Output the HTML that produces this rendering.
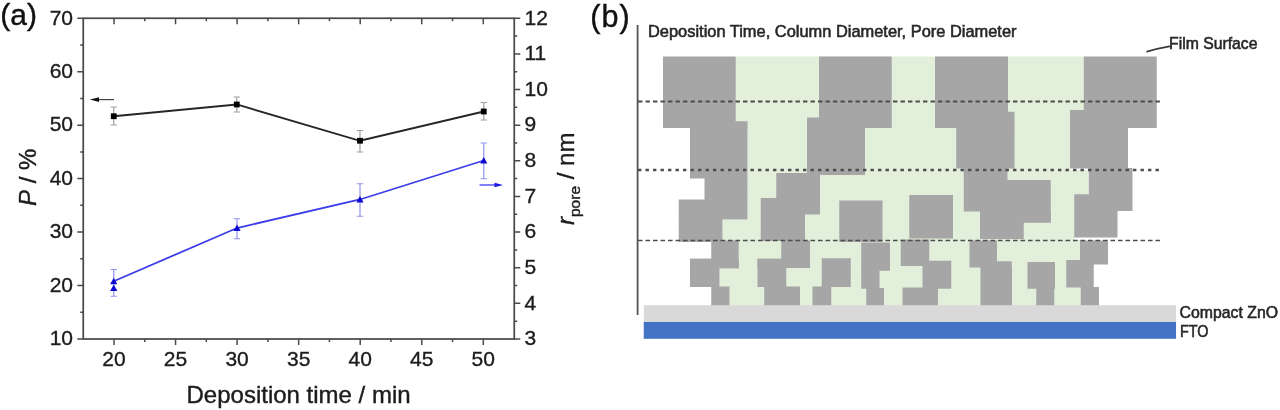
<!DOCTYPE html>
<html lang="en"><head><meta charset="utf-8"><title>Figure</title>
<style>html,body{margin:0;padding:0;background:#fff;}body{width:1280px;height:410px;overflow:hidden;}svg{display:block;filter:blur(0.75px);}</style></head>
<body>
<svg width="1280" height="410" viewBox="0 0 1280 410">
<rect width="1280" height="410" fill="#ffffff"/>
<g id="chart">
<rect x="83.25" y="18.25" width="431.0" height="320.75" fill="none" stroke="#4a4a4a" stroke-width="1.75"/>
<path d="M83.25,339.00h-6M83.25,312.27h-3M83.25,285.54h-6M83.25,258.81h-3M83.25,232.08h-6M83.25,205.35h-3M83.25,178.62h-6M83.25,151.90h-3M83.25,125.17h-6M83.25,98.44h-3M83.25,71.71h-6M83.25,44.98h-3M83.25,18.25h-6M514.25,339.00h6M514.25,321.18h3M514.25,303.36h6M514.25,285.54h3M514.25,267.72h6M514.25,249.90h3M514.25,232.08h6M514.25,214.26h3M514.25,196.44h6M514.25,178.62h3M514.25,160.81h6M514.25,142.99h3M514.25,125.17h6M514.25,107.35h3M514.25,89.53h6M514.25,71.71h3M514.25,53.89h6M514.25,36.07h3M514.25,18.25h6M114.00,339.0v6M114.00,18.25v6M144.78,339.0v3M144.78,18.25v3M175.55,339.0v6M175.55,18.25v6M206.32,339.0v3M206.32,18.25v3M237.10,339.0v6M237.10,18.25v6M267.88,339.0v3M267.88,18.25v3M298.65,339.0v6M298.65,18.25v6M329.43,339.0v3M329.43,18.25v3M360.20,339.0v6M360.20,18.25v6M390.98,339.0v3M390.98,18.25v3M421.75,339.0v6M421.75,18.25v6M452.53,339.0v3M452.53,18.25v3M483.30,339.0v6M483.30,18.25v6" stroke="#4a4a4a" stroke-width="1.5" fill="none"/>
<g font-family="'Liberation Sans', Arial, sans-serif" font-size="21" fill="#1c1c1c" stroke="#1c1c1c" stroke-width="0.35">
<text x="73" y="345.30" text-anchor="end">10</text>
<text x="73" y="291.84" text-anchor="end">20</text>
<text x="73" y="238.38" text-anchor="end">30</text>
<text x="73" y="184.93" text-anchor="end">40</text>
<text x="73" y="131.47" text-anchor="end">50</text>
<text x="73" y="78.01" text-anchor="end">60</text>
<text x="73" y="24.55" text-anchor="end">70</text>
<text x="524.5" y="345.30">3</text>
<text x="524.5" y="309.66">4</text>
<text x="524.5" y="274.02">5</text>
<text x="524.5" y="238.38">6</text>
<text x="524.5" y="202.74">7</text>
<text x="524.5" y="167.11">8</text>
<text x="524.5" y="131.47">9</text>
<text x="524.5" y="95.83">10</text>
<text x="524.5" y="60.19">11</text>
<text x="524.5" y="24.55">12</text>
<text x="114.00" y="366.3" text-anchor="middle">20</text>
<text x="175.55" y="366.3" text-anchor="middle">25</text>
<text x="237.10" y="366.3" text-anchor="middle">30</text>
<text x="298.65" y="366.3" text-anchor="middle">35</text>
<text x="360.20" y="366.3" text-anchor="middle">40</text>
<text x="421.75" y="366.3" text-anchor="middle">45</text>
<text x="483.30" y="366.3" text-anchor="middle">50</text>
</g>
<g font-family="'Liberation Sans', Arial, sans-serif" font-size="24" fill="#1c1c1c" stroke="#1c1c1c" stroke-width="0.4">
<text x="186.5" y="402.9">Deposition time / min</text>
<text transform="translate(36,206) rotate(-90)"><tspan font-style="italic">P</tspan> / %</text>
<text transform="translate(573.5,225) rotate(-90)"><tspan font-style="italic">r</tspan><tspan font-size="15.5" dy="6.5">pore</tspan><tspan dy="-6.5"> / nm</tspan></text>
</g>
<text x="0.3" y="24.6" font-family="'Liberation Sans', Arial, sans-serif" font-size="30" fill="#111" stroke="#111" stroke-width="0.4">(a)</text>
<path d="M113.75,107V125M110.55,107h6.4M110.55,125h6.4M236.75,97V112M233.55,97h6.4M233.55,112h6.4M360,130.5V152M356.8,130.5h6.4M356.8,152h6.4M483.75,102.5V120M480.55,102.5h6.4M480.55,120h6.4" stroke="#a0a0a0" stroke-width="1.2" fill="none"/>
<polyline points="113.75,116.25 236.75,104.5 360,140.75 483.75,111.5" fill="none" stroke="#262626" stroke-width="1.8"/>
<rect x="110.85" y="113.35" width="5.8" height="5.8" fill="#000"/>
<rect x="233.85" y="101.6" width="5.8" height="5.8" fill="#000"/>
<rect x="357.1" y="137.85" width="5.8" height="5.8" fill="#000"/>
<rect x="480.85" y="108.6" width="5.8" height="5.8" fill="#000"/>
<path d="M114,99.6H97" stroke="#444" stroke-width="1.2" fill="none"/><path d="M90,99.6l9,-2.3v4.6z" fill="#111"/>
<path d="M113.75,269.5V296.25M110.55,269.5h6.4M110.55,296.25h6.4M237,218.75V238.75M233.8,218.75h6.4M233.8,238.75h6.4M360,183.75V216.25M356.8,183.75h6.4M356.8,216.25h6.4M483.75,143V178.75M480.55,143h6.4M480.55,178.75h6.4" stroke="#9292f4" stroke-width="1.2" fill="none"/>
<polyline points="113.75,281.25 237,228 360,199.5 483.75,160.5" fill="none" stroke="#3c3ce8" stroke-width="1.8"/>
<path d="M113.75,277.65L117.35,284.13H110.15z" fill="#0a0ad0"/>
<path d="M237,224.4L240.6,230.88H233.4z" fill="#0a0ad0"/>
<path d="M360,195.9L363.6,202.38H356.4z" fill="#0a0ad0"/>
<path d="M483.75,156.9L487.35,163.38H480.15z" fill="#0a0ad0"/>
<path d="M113.75,284.4L117.35,290.88H110.15z" fill="#0a0ad0"/>
<path d="M479.5,185H496" stroke="#3c3cf0" stroke-width="1.3" fill="none"/><path d="M503,185l-8.5,-2.2v4.4z" fill="#1a1ae0"/>
</g>
<g id="schematic">
<text x="590.3" y="26.9" font-family="'Liberation Sans', Arial, sans-serif" font-size="30.5" fill="#111" stroke="#111" stroke-width="0.4" textLength="39.3" lengthAdjust="spacing">(b)</text>
<g fill="#e2efda">
<rect x="735.75" y="56.5" width="348.00" height="72.50"/>
<rect x="747.5" y="128" width="322.50" height="43.00"/>
<rect x="747.5" y="170" width="341.00" height="30.00"/>
<rect x="747.5" y="194" width="327.00" height="26.00"/>
<rect x="722.5" y="219.5" width="352.00" height="21.50"/>
<rect x="738.75" y="240" width="341.25" height="29.00"/>
<rect x="719.5" y="260" width="347.00" height="28.00"/>
<rect x="729.5" y="287" width="351.50" height="19.50"/>
</g>
<g fill="#a6a6a6">
<rect x="663" y="56.5" width="72.75" height="71.50"/>
<rect x="819" y="56.5" width="72.75" height="71.50"/>
<rect x="935" y="56.5" width="73.00" height="71.50"/>
<rect x="1083.75" y="56.5" width="73.00" height="71.50"/>
<rect x="690" y="127" width="57.50" height="51.50"/>
<rect x="728" y="121.25" width="19.50" height="7.75"/>
<rect x="704.5" y="178" width="43.00" height="22.00"/>
<rect x="807" y="117.5" width="58.00" height="57.50"/>
<rect x="956.25" y="127" width="58.25" height="41.50"/>
<rect x="1000" y="111.75" width="14.50" height="17.25"/>
<rect x="1070" y="110" width="58.00" height="58.50"/>
<rect x="678.75" y="199.5" width="68.75" height="20.00"/>
<rect x="678.75" y="219" width="43.75" height="23.00"/>
<rect x="776.25" y="173" width="43.75" height="41.50"/>
<rect x="760.75" y="198" width="44.25" height="43.00"/>
<rect x="839.25" y="200.5" width="43.25" height="41.50"/>
<rect x="909.25" y="195" width="43.75" height="43.50"/>
<rect x="963.75" y="168" width="43.75" height="43.50"/>
<rect x="1000" y="180" width="50.75" height="42.50"/>
<rect x="980" y="211" width="70.75" height="11.50"/>
<rect x="980" y="222" width="43.75" height="17.00"/>
<rect x="1088.75" y="168" width="43.75" height="43.00"/>
<rect x="1074.25" y="194.25" width="43.25" height="43.25"/>
<rect x="711.25" y="240.5" width="27.50" height="27.75"/>
<rect x="690" y="258.75" width="29.50" height="28.25"/>
<rect x="690" y="258.75" width="48.75" height="9.50"/>
<rect x="711.25" y="286.5" width="18.25" height="20.00"/>
<rect x="781.25" y="240.5" width="28.75" height="27.50"/>
<rect x="757.5" y="258.75" width="28.75" height="28.25"/>
<rect x="757.5" y="258.75" width="52.50" height="9.25"/>
<rect x="764.25" y="286.5" width="35.75" height="20.00"/>
<rect x="821.75" y="258.25" width="29.00" height="28.75"/>
<rect x="812.5" y="286.5" width="18.75" height="20.00"/>
<rect x="861.25" y="242.5" width="28.75" height="28.25"/>
<rect x="861.25" y="270" width="18.25" height="18.75"/>
<rect x="866.25" y="288" width="17.75" height="18.50"/>
<rect x="900.75" y="239.5" width="28.50" height="26.50"/>
<rect x="922.5" y="260.75" width="28.75" height="28.00"/>
<rect x="902.5" y="287.5" width="35.50" height="19.00"/>
<rect x="969.5" y="240.5" width="27.50" height="27.00"/>
<rect x="982.5" y="261.25" width="29.25" height="45.25"/>
<rect x="980.5" y="267" width="31.50" height="39.50"/>
<rect x="1027.5" y="262" width="27.50" height="26.75"/>
<rect x="1036.25" y="288" width="18.00" height="18.50"/>
<rect x="1080" y="240.5" width="28.00" height="24.00"/>
<rect x="1066.25" y="260" width="27.50" height="27.50"/>
<rect x="1080.75" y="287" width="18.25" height="19.50"/>
</g>
<rect x="643.75" y="305.2" width="532.3" height="17" fill="#d9d9d9"/>
<rect x="643.75" y="322" width="532.3" height="16.8" fill="#4472c4"/>
<path d="M637.6,25V315" stroke="#555" stroke-width="1.8" fill="none"/>
<path d="M638,101.5H1163" stroke="#4d4d4d" stroke-width="1.9" stroke-dasharray="4.4 3.1" fill="none"/>
<path d="M638,170H1163" stroke="#4d4d4d" stroke-width="2.3" stroke-dasharray="3.4 4.1" fill="none"/>
<path d="M638,240.5H1163" stroke="#4d4d4d" stroke-width="1.7" stroke-dasharray="4.6 2.9" fill="none"/>
<path d="M1147,51.6Q1158,48.2 1169.5,46.3" stroke="#3a3a3a" stroke-width="1.7" stroke-linecap="round" fill="none"/>
<g font-family="'Liberation Sans', Arial, sans-serif" font-size="15.7" fill="#262626" stroke="#262626" stroke-width="0.55">
<text x="648" y="37" textLength="368.5" lengthAdjust="spacingAndGlyphs">Deposition Time, Column Diameter, Pore Diameter</text>
<text x="1169" y="49.2" textLength="88.5" lengthAdjust="spacingAndGlyphs">Film Surface</text>
<text x="1179.5" y="318" textLength="98.5" lengthAdjust="spacingAndGlyphs">Compact ZnO</text>
<text x="1180" y="337" textLength="28.5" lengthAdjust="spacingAndGlyphs">FTO</text>
</g>
</g>
</svg>
</body></html>
